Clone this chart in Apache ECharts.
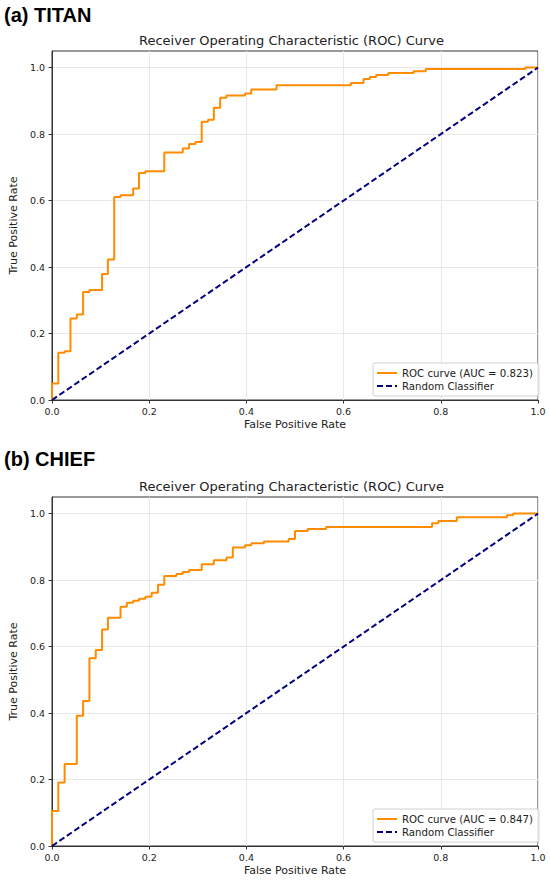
<!DOCTYPE html>
<html>
<head>
<meta charset="utf-8">
<script src="https://cdn.jsdelivr.net/npm/echarts@6/dist/echarts.min.js"></script>
<style>
  html, body { margin: 0; padding: 0; background: #fff; }
  #chart { width: 550px; height: 880px; }
</style>
</head>
<body>
<div id="chart"></div>
<script>
// corner points of each ROC step (x where the curve rises, y at the top of the rise)
var titanFpr = [0, 0, 0.013, 0.026, 0.038, 0.051, 0.064, 0.077, 0.103, 0.115, 0.128, 0.141,
    0.167, 0.179, 0.192, 0.231, 0.269, 0.282, 0.295, 0.308, 0.321, 0.333, 0.346, 0.359,
    0.397, 0.410, 0.462, 0.615, 0.641, 0.654, 0.667, 0.692, 0.744, 0.769, 0.974, 1.0];
var titanTpr = [0, 0.05, 0.142, 0.147, 0.245, 0.257, 0.325, 0.331, 0.379, 0.423, 0.611, 0.616,
    0.636, 0.683, 0.688, 0.745, 0.757, 0.770, 0.776, 0.837, 0.843, 0.879, 0.909, 0.916,
    0.922, 0.934, 0.947, 0.954, 0.966, 0.972, 0.978, 0.984, 0.989, 0.996, 1.0, 1.0];

var chiefFpr = [0, 0, 0.013, 0.026, 0.051, 0.064, 0.077, 0.090, 0.103, 0.115, 0.141, 0.154,
    0.167, 0.179, 0.192, 0.205, 0.218, 0.231, 0.256, 0.269, 0.282, 0.308, 0.333, 0.359,
    0.372, 0.397, 0.410, 0.436, 0.487, 0.500, 0.526, 0.564, 0.782, 0.795, 0.833, 0.936,
    0.949, 1.0];
var chiefTpr = [0, 0.105, 0.191, 0.247, 0.392, 0.436, 0.565, 0.590, 0.651, 0.687, 0.720, 0.732,
    0.738, 0.744, 0.750, 0.762, 0.786, 0.812, 0.818, 0.824, 0.830, 0.848, 0.860, 0.868,
    0.898, 0.905, 0.911, 0.916, 0.924, 0.948, 0.954, 0.960, 0.971, 0.978, 0.989, 0.995,
    1.0, 1.0];

var chanceLine = [[0, 0], [1, 1]];
var tickValues = [0, 0.2, 0.4, 0.6, 0.8, 1.0];

var titanName = 'ROC curve (AUC = 0.823)';
var chiefName = 'ROC curve (AUC = 0.847)';
var chanceName = 'Random Classifier';

function pairs(xs, ys) {
    return xs.map(function (x, i) { return [x, ys[i]]; });
}

var FONT = 'DejaVu Sans';
var TXT = '#222';

function xAxisFor(idx) {
    return {
        gridIndex: idx, type: 'value', min: 0, max: 1, interval: 0.2,
        name: 'False Positive Rate', nameLocation: 'middle', nameGap: 19,
        nameTextStyle: { fontFamily: FONT, fontSize: 11, color: TXT },
        axisLine: { lineStyle: { color: '#333', width: 1 } },
        axisTick: { length: 3.5, lineStyle: { color: '#333' } },
        axisLabel: { margin: 6, fontFamily: FONT, fontSize: 9.5, color: TXT,
            formatter: function (v) { return v.toFixed(1); } },
        splitLine: { lineStyle: { color: '#e8e8e8', width: 1 } }
    };
}

function yAxisFor(idx) {
    return {
        gridIndex: idx, type: 'value', min: 0, max: 1.05, interval: 0.2,
        name: 'True Positive Rate', nameLocation: 'middle', nameGap: 26,
        nameTextStyle: { fontFamily: FONT, fontSize: 11, color: TXT },
        axisLine: { lineStyle: { color: '#333', width: 1 } },
        axisTick: { length: 3.5, lineStyle: { color: '#333' }, customValues: tickValues },
        axisLabel: { margin: 7, fontFamily: FONT, fontSize: 9.5, color: TXT, customValues: tickValues,
            formatter: function (v) { return Math.abs(v - 1.05) < 1e-9 ? '' : v.toFixed(1); } },
        splitLine: { lineStyle: { color: '#e8e8e8', width: 1 } }
    };
}

function legendFor(top, names) {
    return {
        data: names, orient: 'vertical', left: 373, top: top,
        itemWidth: 20, itemHeight: 10, itemGap: 3,
        padding: [5, 6, 5, 3],
        itemStyle: { opacity: 0 },
        backgroundColor: 'rgba(255,255,255,0.85)',
        borderColor: '#d0d0d0', borderWidth: 1, borderRadius: 2,
        textStyle: { fontFamily: FONT, fontSize: 10.2, color: TXT }
    };
}

var chart = echarts.init(document.getElementById('chart'), null, { renderer: 'svg' });

chart.setOption({
    animation: false,
    backgroundColor: '#fff',
    title: [
        { text: '(a) TITAN', left: 4, top: 15, textVerticalAlign: 'middle', padding: 0,
          textStyle: { fontFamily: 'Liberation Sans', fontWeight: 'bold', fontSize: 20, color: '#000' } },
        { text: 'Receiver Operating Characteristic (ROC) Curve', left: 291.5, top: 40.5,
          textAlign: 'center', textVerticalAlign: 'middle', padding: 0,
          textStyle: { fontFamily: FONT, fontWeight: 'normal', fontSize: 13, color: TXT } },
        { text: '(b) CHIEF', left: 4, top: 459, textVerticalAlign: 'middle', padding: 0,
          textStyle: { fontFamily: 'Liberation Sans', fontWeight: 'bold', fontSize: 20, color: '#000' } },
        { text: 'Receiver Operating Characteristic (ROC) Curve', left: 291.5, top: 486.5,
          textAlign: 'center', textVerticalAlign: 'middle', padding: 0,
          textStyle: { fontFamily: FONT, fontWeight: 'normal', fontSize: 13, color: TXT } }
    ],
    legend: [
        legendFor(363, [titanName, chanceName]),
        legendFor(809, [chiefName, chanceName])
    ],
    grid: [
        { left: 45, top: 51, width: 493, height: 349, show: true, borderColor: '#333', borderWidth: 1 },
        { left: 45, top: 497, width: 493, height: 349, show: true, borderColor: '#333', borderWidth: 1 }
    ],
    xAxis: [xAxisFor(0), xAxisFor(1)],
    yAxis: [yAxisFor(0), yAxisFor(1)],
    series: [
        { name: titanName, type: 'line', xAxisIndex: 0, yAxisIndex: 0, step: 'end', symbol: 'none',
          lineStyle: { color: '#ff8c00', width: 2 }, itemStyle: { color: '#ff8c00' },
          data: pairs(titanFpr, titanTpr) },
        { name: chanceName, type: 'line', xAxisIndex: 0, yAxisIndex: 0, symbol: 'none',
          lineStyle: { color: '#000080', width: 2, type: [6, 3] }, itemStyle: { color: '#000080' },
          data: chanceLine },
        { name: chiefName, type: 'line', xAxisIndex: 1, yAxisIndex: 1, step: 'end', symbol: 'none',
          lineStyle: { color: '#ff8c00', width: 2 }, itemStyle: { color: '#ff8c00' },
          data: pairs(chiefFpr, chiefTpr) },
        { name: chanceName, type: 'line', xAxisIndex: 1, yAxisIndex: 1, symbol: 'none',
          lineStyle: { color: '#000080', width: 2, type: [6, 3] }, itemStyle: { color: '#000080' },
          data: chanceLine }
    ]
});
</script>
</body>
</html>
